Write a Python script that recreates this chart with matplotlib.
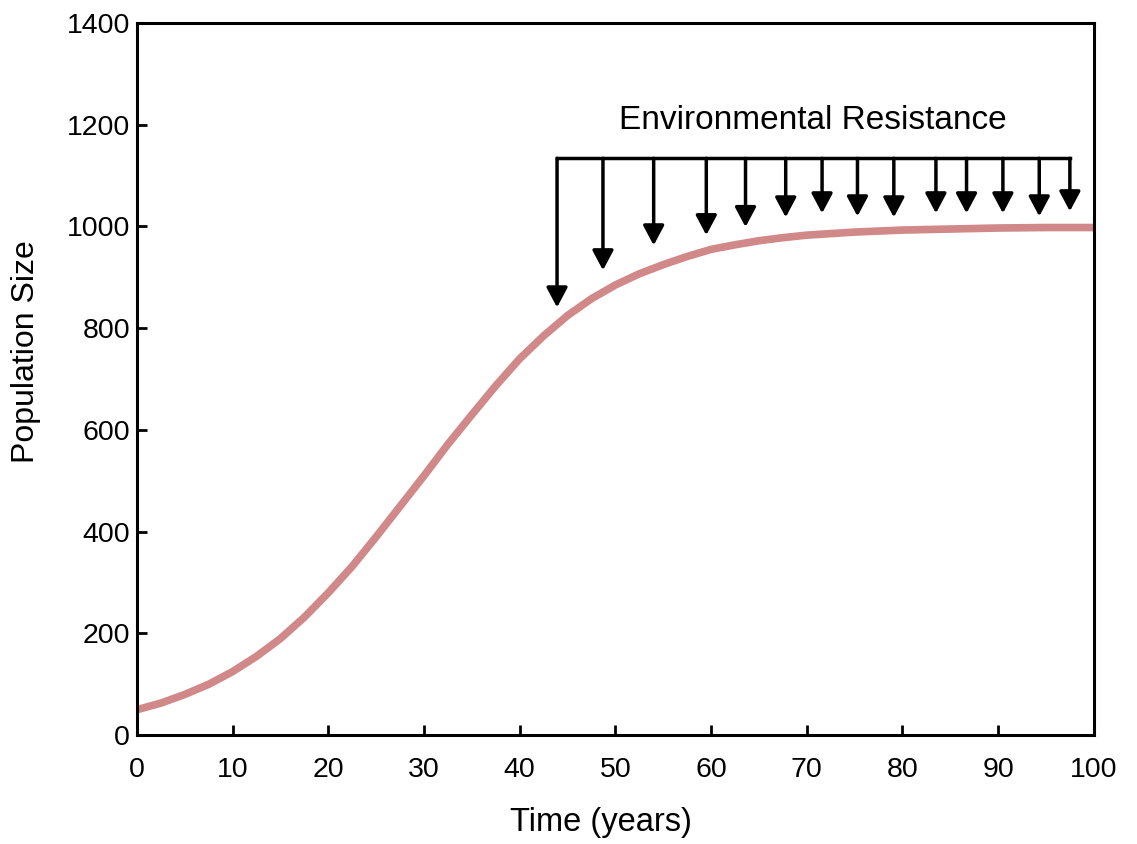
import matplotlib
matplotlib.use("Agg")
import matplotlib.pyplot as plt

plt.rcParams['font.family'] = ['Liberation Sans', 'DejaVu Sans']

# population curve
years = [0, 2.5, 5, 7.5, 10, 12.5, 15, 17.5, 20, 22.5, 25, 27.5, 30, 32.5, 35, 37.5,
         40, 42.5, 45, 47.5, 50, 52.5, 55, 57.5, 60, 62.5, 65, 67.5, 70, 75, 80, 85, 90, 95, 100]
population = [50, 63, 80, 100, 125, 155, 190, 232, 280, 332, 390, 450, 510, 572, 630, 687,
              740, 785, 825, 858, 885, 907, 925, 941, 955, 964, 972, 978, 983, 989, 993, 995, 997, 998, 998]

# environmental resistance arrows: x position and where each tip stops
arrow_x = [43.9, 48.7, 54.0, 59.5, 63.6, 67.8, 71.6, 75.3, 79.1, 83.5, 86.7, 90.5, 94.3, 97.5]
arrow_tip = [841, 914, 963, 983, 999, 1018, 1026, 1020, 1018, 1026, 1026, 1026, 1020, 1030]
bracket_y = 1134
label_text = "Environmental Resistance"

fig = plt.figure(figsize=(11.37, 8.44), dpi=100)
ax = fig.add_axes([0.1205, 0.129, 0.8415, 0.8437])

ax.plot(years, population, color='#d08888', lw=5.5, solid_capstyle='round',
        solid_joinstyle='round', zorder=2)

ax.plot([arrow_x[0], arrow_x[-1]], [bracket_y, bracket_y], color='k', lw=2.5,
        solid_capstyle='projecting', zorder=3)
for x, tip in zip(arrow_x, arrow_tip):
    ax.annotate('', xy=(x, tip), xytext=(x, bracket_y),
                arrowprops=dict(arrowstyle='-|>,head_length=0.6,head_width=0.32',
                                lw=2.5, color='k', shrinkA=0, shrinkB=0,
                                mutation_scale=20), zorder=3)
ax.text(70.6, 1208, label_text, ha='center', va='center', fontsize=24)

ax.set_xlim(0, 100)
ax.set_ylim(0, 1400)
ax.set_xticks(range(0, 101, 10))
ax.set_yticks(range(0, 1401, 200))
ax.tick_params(direction='in', length=7, width=2, labelsize=20.5, pad=16)
ax.tick_params(axis='y', pad=5)
for s in ax.spines.values():
    s.set_linewidth(2.2)

fig.text(0.5286, 0.026, 'Time (years)', ha='center', va='center', fontsize=23.5)
fig.text(0.0229, 0.583, 'Population Size', ha='center', va='center',
         rotation=90, fontsize=23)

fig.savefig('out.png', dpi=100)
